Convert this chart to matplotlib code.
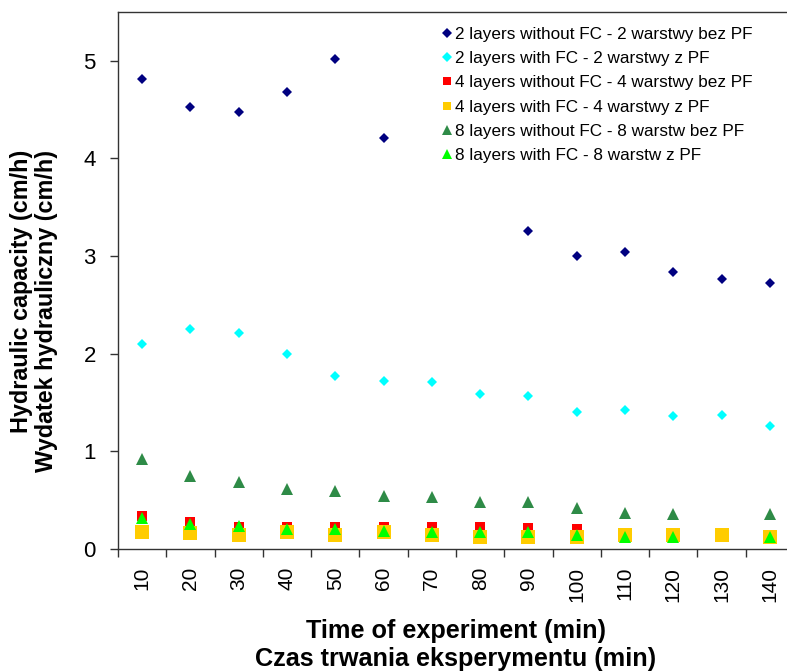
import numpy as np
import matplotlib
matplotlib.use("Agg")
import matplotlib.pyplot as plt

plt.rcParams['font.family'] = ['Liberation Sans', 'DejaVu Sans']

times = ["10", "20", "30", "40", "50", "60", "70", "80", "90", "100", "110", "120", "130", "140"]
nan = np.nan
two_without = [4.81, 4.53, 4.48, 4.68, 5.02, 4.21, nan, nan, 3.26, 3.00, 3.04, 2.84, 2.76, 2.72]
two_with = [2.10, 2.25, 2.21, 2.00, 1.77, 1.72, 1.71, 1.59, 1.56, 1.40, 1.42, 1.36, 1.37, 1.26]
four_without = [0.33, 0.27, 0.22, 0.22, 0.22, 0.22, 0.22, 0.22, 0.21, 0.20, nan, nan, nan, nan]
four_with = [0.17, 0.165, 0.14, 0.17, 0.145, 0.17, 0.14, 0.125, 0.125, 0.12, 0.14, 0.14, 0.14, 0.115]
eight_without = [0.92, 0.745, 0.68, 0.61, 0.59, 0.54, 0.53, 0.48, 0.48, 0.42, 0.37, 0.36, nan, 0.36]
eight_with = [0.31, 0.25, 0.23, 0.20, 0.20, 0.18, 0.17, 0.17, 0.17, 0.14, 0.12, 0.115, nan, 0.115]

labels = [
    "2 layers without FC - 2 warstwy bez PF",
    "2 layers with FC - 2 warstwy z PF",
    "4 layers without FC - 4 warstwy bez PF",
    "4 layers with FC - 4 warstwy z PF",
    "8 layers without FC - 8 warstw bez PF",
    "8 layers with FC - 8 warstw z PF",
]

W, H = 787, 672
fig = plt.figure(figsize=(W / 100, H / 100), dpi=100)
left, right, top, bottom = 118, 794, 12, 548.7
ax = fig.add_axes([left / W, 1 - bottom / H, (right - left) / W, (bottom - top) / H])

x = np.arange(len(times))
styles = [
    (two_without, "D", "#000080", 5.6, 4.6),
    (two_with, "D", "#00FFFF", 5.6, 4.6),
    (four_without, "s", "#FF0000", 6.5, 6.3),
    (four_with, "s", "#FFCC00", 10.3, 6.3),
    (eight_without, "^", "#2E8B47", 8.0, 7.0),
    (eight_with, "^", "#00FF00", 8.0, 7.0),
]
for (vals, m, c, ms, _), lab in zip(styles, labels):
    ax.plot(x, vals, linestyle="none", marker=m, color=c, markersize=ms,
            markeredgewidth=0, label=lab)

ax.set_xlim(-0.5, len(times) - 0.5)
ax.set_ylim(0, 5.5)
ax.set_yticks(range(0, 6))
ax.set_yticklabels([str(v) for v in range(0, 6)])
ax.set_xticks(x)
ax.set_xticklabels(times, rotation=90)
ax.set_xticks(np.arange(-0.5, len(times), 1), minor=True)
ax.tick_params(axis='x', which='major', length=0, pad=13, labelsize=15)
ax.tick_params(axis='x', which='minor', length=6, width=1, direction='out', color='#333333')
ax.tick_params(axis='y', which='major', length=6, width=1, direction='out', pad=10,
               labelsize=16, color='#333333')

for s in ax.spines.values():
    s.set_color('#333333')
    s.set_linewidth(1.0)
ax.spines['right'].set_visible(False)

fig.text(456 / W, 1 - 671 / H, "Time of experiment (min)\nCzas trwania eksperymentu (min)",
         ha='center', va='bottom', fontsize=18.2, fontweight='bold',
         multialignment='center', linespacing=1.2)
fig.text(34 / W, 1 - 150 / H, "Hydraulic capacity (cm/h)\nWydatek hydrauliczny (cm/h)",
         rotation=90, ha='center', va='top', fontsize=16.8, fontweight='bold',
         multialignment='right', linespacing=1.12)

leg = ax.legend(loc='upper left', bbox_to_anchor=(441 / W, 1 - 27 / H),
                bbox_transform=fig.transFigure, frameon=False, fontsize=12.3,
                handlelength=0.7, handletextpad=0.1, labelspacing=0.54,
                borderpad=0, borderaxespad=0)
for h, st in zip(leg.legend_handles, styles):
    h.set_markersize(st[4])

fig.savefig("out.png", dpi=100)
